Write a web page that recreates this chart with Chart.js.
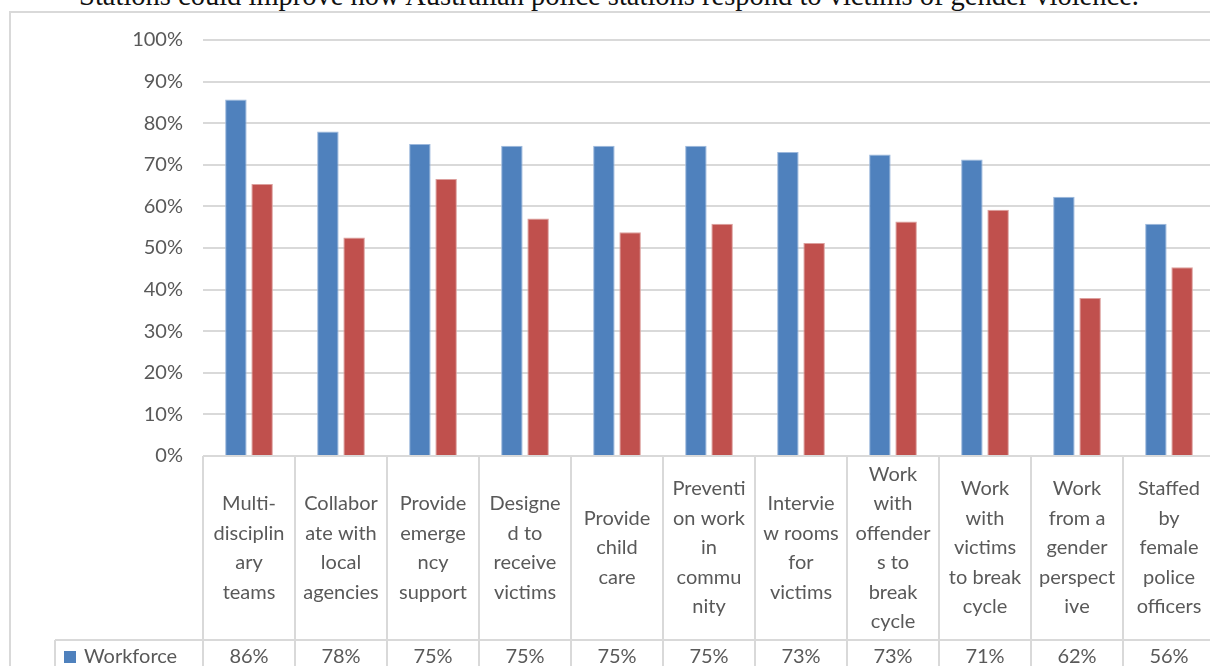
<!DOCTYPE html>
<html>
<head>
<meta charset="utf-8">
<script src="https://cdn.jsdelivr.net/npm/chart.js@4/dist/chart.umd.min.js"></script>
<style>
  html, body { margin: 0; padding: 0; background: #fff; overflow: hidden; width: 1210px; height: 666px; }
  #title { position: absolute; left: 0; width: 1218px; top: -18px; text-align: center; font-family: "Liberation Serif", serif; font-size: 28.5px; line-height: 28.5px; color: #111; white-space: nowrap; }
  #frame { position: absolute; left: 9px; top: 11px; width: 1300px; height: 800px; border: 2px solid #d9d9d9; }
  #wrap { position: absolute; left: 0; top: 0; width: 1240px; height: 720px; }
</style>
</head>
<body>
<div id="title">Stations could improve how Australian police stations respond to victims of gender violence.</div>
<div id="frame"></div>
<div id="wrap"><canvas id="chart"></canvas></div>
<script>
// categories, wrapped the way the data table shows them
const categories = [
    ["Multi-", "disciplin", "ary", "teams"],
    ["Collabor", "ate with", "local", "agencies"],
    ["Provide", "emerge", "ncy", "support"],
    ["Designe", "d to", "receive", "victims"],
    ["Provide", "child", "care"],
    ["Preventi", "on work", "in", "commu", "nity"],
    ["Intervie", "w rooms", "for", "victims"],
    ["Work", "with", "offender", "s to", "break", "cycle"],
    ["Work", "with", "victims", "to break", "cycle"],
    ["Work", "from a", "gender", "perspect", "ive"],
    ["Staffed", "by", "female", "police", "officers"]
];
const seriesNames = ["Workforce", "Community"];
const workforce = [85.7, 78.0, 75.0, 74.6, 74.6, 74.6, 73.1, 72.5, 71.3, 62.3, 55.8];
const community = [65.4, 52.5, 66.6, 57.1, 53.8, 55.8, 51.2, 56.4, 59.2, 38.0, 45.4];
const yTicks = [0, 10, 20, 30, 40, 50, 60, 70, 80, 90, 100];
const colors = ["#4f81bd", "#c0504d"];
const edges = ["#9cb8dc", "#dc9f9d"];

const labelFont = "20px Lato";
const textColor = "#595959";

// draws the data table under the plot, like Excel's "data table" option
const dataTable = {
    id: "dataTable",
    afterDraw(chart) {
        const ctx = chart.ctx;
        const x = chart.scales.x;
        const n = categories.length;
        const step = x.width / n;
        const top = chart.chartArea.bottom;
        const catBottom = 640;
        const rowH = 34;
        const rowsBottom = catBottom + rowH * seriesNames.length;
        const headLeft = 55;

        ctx.save();
        ctx.strokeStyle = "#d9d9d9";
        ctx.lineWidth = 2;
        ctx.beginPath();
        for (let i = 0; i <= n; i++) {
            const xx = x.left + i * step;
            ctx.moveTo(xx, top);
            ctx.lineTo(xx, rowsBottom);
        }
        ctx.moveTo(headLeft, catBottom);
        ctx.lineTo(headLeft, rowsBottom);
        for (let r = 0; r <= seriesNames.length; r++) {
            const yy = catBottom + r * rowH;
            ctx.moveTo(headLeft, yy);
            ctx.lineTo(x.right, yy);
        }
        ctx.stroke();

        ctx.font = labelFont;
        ctx.fillStyle = textColor;
        ctx.textAlign = "center";
        ctx.textBaseline = "middle";
        const lineH = 29.5;
        const mid = (top + catBottom) / 2;
        categories.forEach((lines, i) => {
            const cx = x.getPixelForValue(i);
            const y0 = mid - (lines.length - 1) * lineH / 2;
            lines.forEach((line, k) => ctx.fillText(line, cx, y0 + k * lineH));
        });

        const series = [workforce, community];
        series.forEach((vals, r) => {
            const cy = catBottom + r * rowH + rowH / 2;
            ctx.fillStyle = colors[r];
            ctx.fillRect(64, cy - 6, 12, 12);
            ctx.fillStyle = textColor;
            ctx.textAlign = "left";
            ctx.fillText(seriesNames[r], 84, cy);
            ctx.textAlign = "center";
            vals.forEach((v, i) => ctx.fillText(Math.round(v) + "%", x.getPixelForValue(i), cy));
        });
        ctx.restore();
    }
};

document.fonts.load(labelFont).then(function () {
    const ctx = document.getElementById("chart").getContext("2d");
    new Chart(ctx, {
        type: "bar",
        data: {
            labels: categories.map(c => c.join(" ")),
            datasets: [
                {
                    label: seriesNames[0],
                    data: workforce,
                    backgroundColor: colors[0],
                    borderColor: edges[0],
                    borderWidth: 1,
                    categoryPercentage: 0.57,
                    barPercentage: 0.82
                },
                {
                    label: seriesNames[1],
                    data: community,
                    backgroundColor: colors[1],
                    borderColor: edges[1],
                    borderWidth: 1,
                    categoryPercentage: 0.57,
                    barPercentage: 0.82
                }
            ]
        },
        options: {
            responsive: true,
            maintainAspectRatio: false,
            animation: false,
            layout: { padding: { left: 0, top: 40, right: 25, bottom: 0 } },
            plugins: {
                legend: { display: false },
                tooltip: { enabled: false }
            },
            scales: {
                x: {
                    ticks: { display: false },
                    grid: { display: false },
                    border: { display: false },
                    afterFit: scale => { scale.height = 720 - 456; }
                },
                y: {
                    min: 0,
                    max: 100,
                    afterBuildTicks: scale => { scale.ticks = yTicks.map(v => ({ value: v })); },
                    ticks: {
                        padding: 20,
                        color: textColor,
                        font: { family: "Lato", size: 20 },
                        callback: v => v + "%"
                    },
                    grid: { color: "#d9d9d9", lineWidth: 2, drawTicks: false },
                    border: { display: false },
                    afterFit: scale => { scale.width = 203; }
                }
            }
        },
        plugins: [dataTable]
    });
});
</script>
</body>
</html>
